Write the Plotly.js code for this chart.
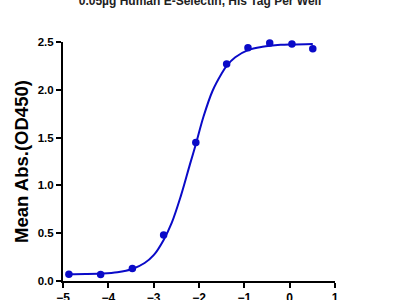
<!DOCTYPE html>
<html>
<head>
<meta charset="utf-8">
<script src="https://cdn.plot.ly/plotly-3.0.1.min.js"></script>
<style>html,body{margin:0;padding:0;background:#fff;}#chart{width:400px;height:300px;}</style>
</head>
<body>
<div id="chart"></div>
<script>
// measured points: log10 concentration vs mean OD450
const logConc = [-4.87, -4.17, -3.47, -2.78, -2.07, -1.39, -0.92, -0.44, 0.05, 0.51];
const meanAbs = [0.07, 0.068, 0.13, 0.48, 1.45, 2.27, 2.44, 2.49, 2.48, 2.43];
// fitted curve
const curveX = [-4.87, -4.5, -4.17, -3.8, -3.47, -3.2, -3.0, -2.78, -2.6, -2.4, -2.2, -2.07, -1.9, -1.7, -1.5, -1.39, -1.2, -0.92, -0.6, -0.2, 0.05, 0.51];
const curveY = [0.071, 0.073, 0.078, 0.092, 0.126, 0.188, 0.27, 0.43, 0.61, 0.89, 1.22, 1.43, 1.72, 1.99, 2.17, 2.25, 2.34, 2.415, 2.45, 2.47, 2.475, 2.48];
const xTicks = [-5, -4, -3, -2, -1, 0, 1];
const xTickText = ['\u22125', '\u22124', '\u22123', '\u22122', '\u22121', '0', '1'];
const yTicks = [0, 0.5, 1.0, 1.5, 2.0, 2.5];
const yTickText = ['0.0', '0.5', '1.0', '1.5', '2.0', '2.5'];
const titleText = '0.05\u00b5g Human E-Selectin, His Tag Per Well';
const yTitle = 'Mean Abs.(OD450)';

const blue = '#0a0ac8';
const data = [
  {x: curveX, y: curveY, mode: 'lines', line: {color: blue, width: 2, shape: 'spline'}, hoverinfo: 'skip', showlegend: false, cliponaxis: false},
  {x: logConc, y: meanAbs, mode: 'markers', marker: {color: blue, size: 7.5}, showlegend: false, cliponaxis: false}
];
const layout = {
  width: 400, height: 300,
  margin: {l: 63, r: 65, t: 42, b: 19},
  paper_bgcolor: '#fff', plot_bgcolor: '#fff',
  font: {family: 'Liberation Sans, Arial, sans-serif', color: '#000'},
  title: {text: '<b>' + titleText + '</b>', font: {size: 12, color: '#222'}, x: 0.5, xanchor: 'center', y: 0.998, yanchor: 'middle', yref: 'container'},
  xaxis: {
    range: [-5, 1], tickvals: xTicks, ticktext: xTickText,
    showgrid: false, zeroline: false, showline: true, linecolor: '#000', linewidth: 2,
    ticks: 'outside', ticklen: 5, tickwidth: 2, tickcolor: '#000',
    tickfont: {size: 12, color: '#000', weight: 'bold'}
  },
  yaxis: {
    range: [0, 2.5], tickvals: yTicks, ticktext: yTickText,
    showgrid: false, zeroline: false, showline: true, linecolor: '#000', linewidth: 2,
    ticks: 'outside', ticklen: 5, tickwidth: 2, tickcolor: '#000',
    tickfont: {size: 11.5, color: '#000', weight: 'bold'},
    title: {text: '<b>' + yTitle + '</b>', font: {size: 18.5, color: '#000'}, standoff: 4}
  }
};
Plotly.newPlot('chart', data, layout, {staticPlot: true, displayModeBar: false});
</script>
</body>
</html>
